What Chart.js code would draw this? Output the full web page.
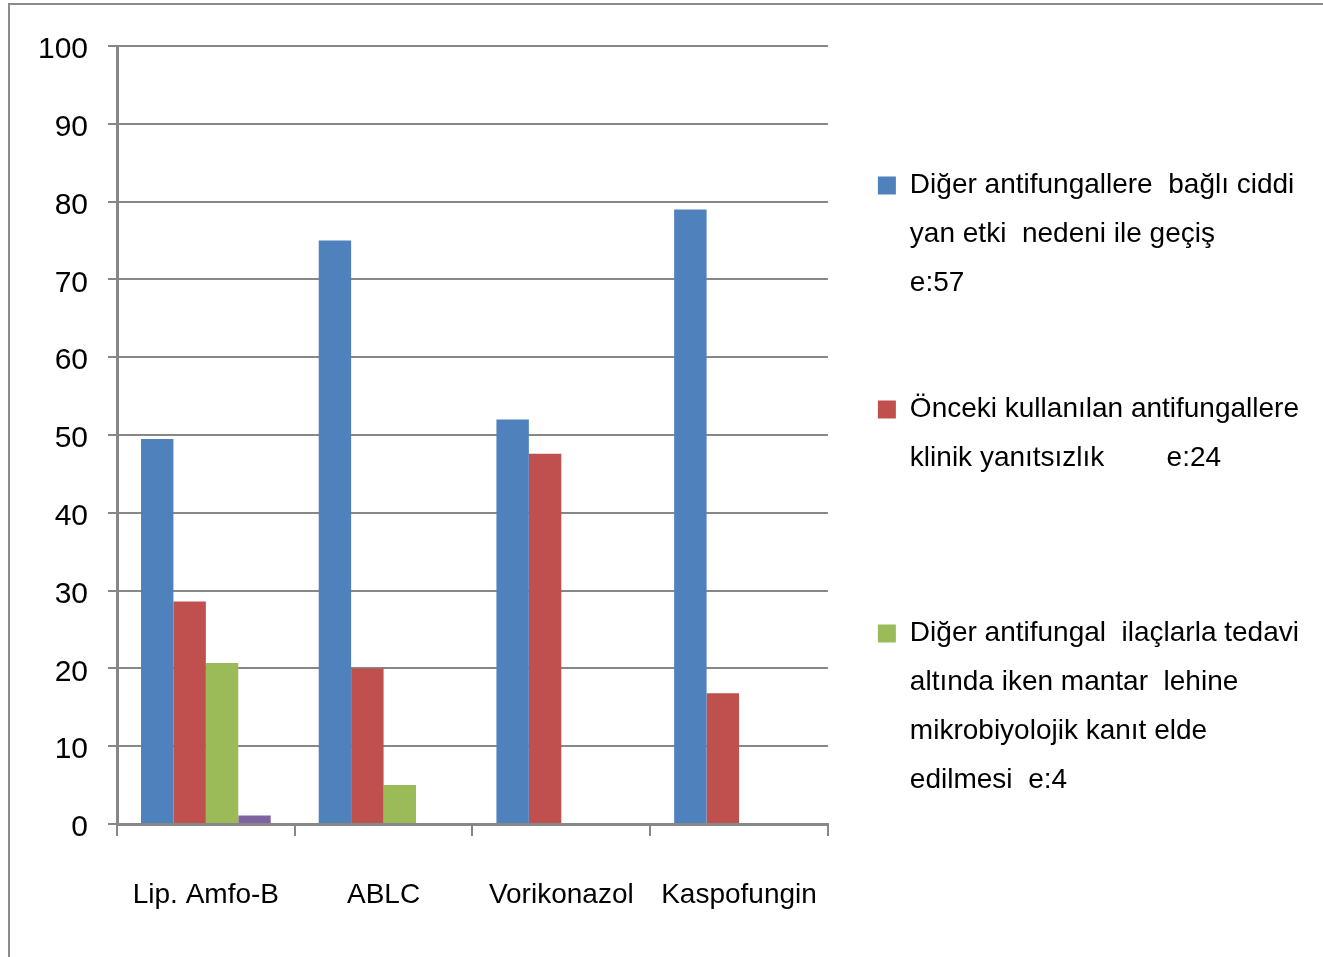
<!DOCTYPE html>
<html><head><meta charset="utf-8">
<script src="https://cdn.jsdelivr.net/npm/chart.js@4/dist/chart.umd.min.js"></script>
<style>html,body{margin:0;padding:0;background:#fff;overflow:hidden}#wrap{width:1323px;height:957px;position:relative}</style>
</head><body><div id="wrap"><canvas id="c"></canvas></div>
<script>
const categories = ['Lip. Amfo-B', 'ABLC', 'Vorikonazol', 'Kaspofungin'];
const legendSwitchAdverse = ['Diğer antifungallere  bağlı ciddi', 'yan etki  nedeni ile geçiş', 'e:57', ''];
const legendNoResponse = ['Önceki kullanılan antifungallere', 'klinik yanıtsızlık        e:24', '', ''];
const legendMicroEvidence = ['Diğer antifungal  ilaçlarla tedavi', 'altında iken mantar  lehine', 'mikrobiyolojik kanıt elde', 'edilmesi  e:4'];
const valuesAdverse = [49.5, 75, 52, 79];
const valuesNoResponse = [28.6, 20, 47.6, 16.8];
const valuesMicroEvidence = [20.7, 5, null, null];
const valuesOther = [1.1, null, null, null];
const yTicks = [0, 10, 20, 30, 40, 50, 60, 70, 80, 90, 100];

const FONT = "'Liberation Sans Narrow', 'Liberation Sans', sans-serif";
const GRID = '#878787';

const framePlugin = {
  id: 'frame',
  beforeDraw(chart) {
    const ctx = chart.ctx;
    ctx.save();
    ctx.fillStyle = '#fff';
    ctx.fillRect(0, 0, chart.width, chart.height);
    ctx.strokeStyle = '#8c8c8c';
    ctx.lineWidth = 2;
    ctx.beginPath();
    ctx.moveTo(9, chart.height + 5);
    ctx.lineTo(9, 4);
    ctx.lineTo(chart.width + 5, 4);
    ctx.stroke();
    ctx.restore();
  }
};

new Chart(document.getElementById('c'), {
  type: 'bar',
  data: {
    labels: categories,
    datasets: [
      { label: legendSwitchAdverse, data: valuesAdverse, backgroundColor: '#4F81BD' },
      { label: legendNoResponse, data: valuesNoResponse, backgroundColor: '#C0504D' },
      { label: legendMicroEvidence, data: valuesMicroEvidence, backgroundColor: '#9BBB59' },
      { label: '', data: valuesOther, backgroundColor: '#8064A2' }
    ]
  },
  options: {
    responsive: true,
    maintainAspectRatio: false,
    animation: false,
    categoryPercentage: 0.73,
    barPercentage: 1.0,
    layout: { padding: { top: 46, left: 0, right: 14, bottom: 16 } },
    plugins: {
      tooltip: { enabled: false },
      legend: {
        position: 'right',
        align: 'center',
        maxWidth: 473,
        labels: {
          boxWidth: 18, boxHeight: 18, padding: 28, color: '#000',
          font: { family: FONT, size: 28, lineHeight: 49 / 28 },
          filter: (item) => item.datasetIndex < 3
        }
      }
    },
    scales: {
      x: {
        grid: { display: true, drawOnChartArea: false, drawTicks: true, tickLength: 12, color: GRID, lineWidth: 2, offset: true },
        border: { color: GRID, width: 3 },
        ticks: { color: '#000', font: { family: FONT, size: 28 }, padding: 42, maxRotation: 0, autoSkip: false },
        afterFit(s) { s.height = 117; }
      },
      y: {
        min: 0, max: 100,
        afterBuildTicks(s) { s.ticks = yTicks.map(v => ({ value: v })); },
        ticks: { color: '#000', font: { family: FONT, size: 30 }, padding: 20, labelOffset: 4 },
        grid: { color: GRID, lineWidth: 2, tickLength: 9 },
        border: { color: GRID, width: 3 },
        afterFit(s) { s.width = 117; }
      },
      y2: {
        position: 'right', display: true,
        grid: { display: false }, border: { display: false }, ticks: { display: false },
        afterFit(s) { s.width = 22; }
      }
    }
  },
  plugins: [framePlugin]
});
</script></body></html>
